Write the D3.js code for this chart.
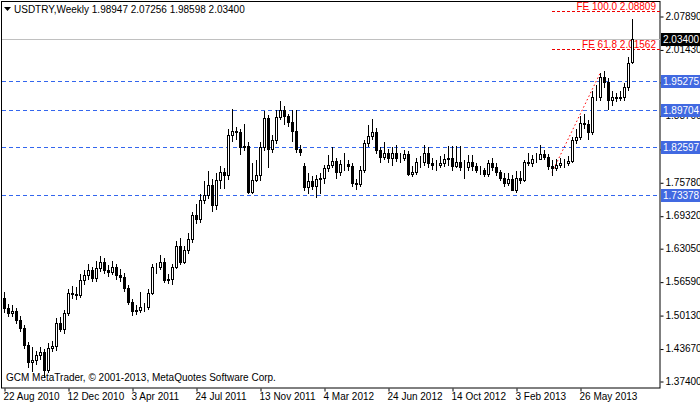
<!DOCTYPE html>
<html>
<head>
<meta charset="utf-8">
<script src="https://cdn.jsdelivr.net/npm/d3@7"></script>
<style>
  body { margin: 0; background: #fff; }
  svg text { font-family: "Liberation Sans", Arial, sans-serif; font-size: 10px; }
</style>
</head>
<body>
<svg id="chart" width="700" height="402"></svg>
<script>
// weekly bars, first bar = 22 Aug 2010
let opens = [1.535,1.515,1.505,1.509,1.492,1.476,1.443,1.411,1.415,1.424,
  1.430,1.395,1.438,1.441,1.486,1.474,1.505,1.544,1.542,1.540,
  1.569,1.578,1.588,1.573,1.592,1.604,1.588,1.584,1.594,1.578,
  1.575,1.553,1.526,1.509,1.511,1.517,1.517,1.544,1.594,1.594,
  1.604,1.569,1.571,1.594,1.634,1.604,1.627,1.648,1.694,1.686,
  1.723,1.733,1.752,1.713,1.762,1.777,1.771,1.849,1.856,1.854,
  1.825,1.827,1.739,1.762,1.771,1.825,1.881,1.823,1.839,1.883,
  1.897,1.885,1.875,1.856,1.823,1.789,1.748,1.760,1.750,1.764,
  1.766,1.785,1.791,1.798,1.777,1.793,1.793,1.789,1.756,1.754,
  1.781,1.833,1.847,1.854,1.820,1.806,1.814,1.804,1.814,1.804,
  1.804,1.812,1.773,1.777,1.796,1.796,1.814,1.795,1.791,1.791,
  1.795,1.802,1.804,1.789,1.796,1.787,1.787,1.796,1.789,1.781,
  1.781,1.773,1.795,1.787,1.777,1.767,1.756,1.764,1.742,1.767,
  1.762,1.796,1.795,1.802,1.802,1.812,1.806,1.789,1.785,1.791,
  1.795,1.795,1.798,1.839,1.845,1.872,1.870,1.854,1.922,1.922,
  1.962,1.951,1.916,1.922,1.920,1.922,1.941,1.98947];
let closes = [1.515,1.505,1.509,1.492,1.476,1.443,1.411,1.415,1.424,1.430,
  1.395,1.438,1.441,1.486,1.474,1.505,1.544,1.542,1.540,1.569,
  1.578,1.588,1.573,1.592,1.604,1.588,1.584,1.594,1.578,1.575,
  1.553,1.526,1.509,1.511,1.517,1.517,1.544,1.594,1.594,1.604,
  1.569,1.571,1.594,1.634,1.604,1.627,1.648,1.694,1.686,1.723,
  1.733,1.752,1.713,1.762,1.777,1.771,1.849,1.856,1.854,1.825,
  1.827,1.739,1.762,1.771,1.825,1.881,1.823,1.839,1.883,1.897,
  1.885,1.875,1.856,1.823,1.816,1.748,1.760,1.750,1.764,1.766,
  1.785,1.791,1.798,1.777,1.793,1.793,1.789,1.756,1.754,1.781,
  1.833,1.847,1.854,1.820,1.806,1.814,1.804,1.814,1.804,1.804,
  1.812,1.773,1.777,1.796,1.796,1.814,1.795,1.791,1.791,1.795,
  1.802,1.804,1.789,1.796,1.787,1.787,1.796,1.789,1.781,1.781,
  1.773,1.795,1.787,1.777,1.767,1.756,1.764,1.742,1.767,1.762,
  1.796,1.795,1.802,1.802,1.812,1.806,1.789,1.785,1.791,1.795,
  1.795,1.798,1.839,1.845,1.872,1.870,1.854,1.922,1.922,1.962,
  1.951,1.916,1.922,1.920,1.922,1.941,1.989,2.034];
let highs = [1.545,1.522,1.520,1.515,1.500,1.482,1.450,1.440,1.432,1.440,
  1.436,1.447,1.452,1.495,1.498,1.512,1.552,1.558,1.555,1.580,
  1.588,1.600,1.595,1.605,1.615,1.612,1.598,1.605,1.600,1.590,
  1.582,1.560,1.532,1.520,1.545,1.525,1.552,1.600,1.602,1.618,
  1.612,1.580,1.600,1.645,1.650,1.635,1.660,1.700,1.715,1.735,
  1.760,1.780,1.765,1.775,1.790,1.785,1.860,1.900,1.865,1.860,
  1.870,1.835,1.795,1.800,1.835,1.895,1.888,1.850,1.897,1.915,
  1.905,1.890,1.897,1.897,1.830,1.795,1.775,1.770,1.772,1.775,
  1.792,1.810,1.825,1.805,1.800,1.815,1.800,1.795,1.765,1.790,
  1.840,1.868,1.880,1.862,1.825,1.835,1.822,1.825,1.830,1.815,
  1.820,1.818,1.790,1.805,1.808,1.830,1.825,1.805,1.800,1.808,
  1.812,1.828,1.828,1.828,1.828,1.800,1.810,1.810,1.795,1.790,
  1.785,1.800,1.805,1.795,1.782,1.775,1.775,1.772,1.780,1.780,
  1.800,1.815,1.810,1.815,1.830,1.820,1.812,1.800,1.802,1.805,
  1.803,1.808,1.845,1.860,1.885,1.890,1.878,1.935,1.945,1.968,
  1.972,1.960,1.935,1.930,1.935,1.950,2.000,2.07256];
let lows = [1.505,1.498,1.497,1.485,1.468,1.436,1.400,1.392,1.405,1.415,
  1.380,1.390,1.430,1.432,1.468,1.465,1.500,1.532,1.530,1.535,
  1.560,1.570,1.565,1.566,1.585,1.580,1.575,1.578,1.570,1.566,
  1.545,1.520,1.500,1.502,1.505,1.508,1.512,1.540,1.580,1.588,
  1.563,1.562,1.560,1.590,1.598,1.600,1.620,1.640,1.678,1.680,
  1.715,1.725,1.700,1.705,1.745,1.745,1.762,1.835,1.840,1.810,
  1.818,1.735,1.735,1.758,1.760,1.818,1.785,1.815,1.832,1.878,
  1.868,1.865,1.835,1.815,1.808,1.740,1.735,1.742,1.728,1.735,
  1.755,1.778,1.785,1.765,1.770,1.780,1.780,1.748,1.742,1.748,
  1.775,1.825,1.840,1.812,1.795,1.800,1.795,1.790,1.796,1.795,
  1.798,1.770,1.768,1.772,1.785,1.790,1.785,1.782,1.780,1.785,
  1.788,1.790,1.780,1.785,1.780,1.765,1.780,1.780,1.775,1.772,
  1.768,1.768,1.780,1.770,1.760,1.748,1.750,1.740,1.738,1.755,
  1.758,1.790,1.788,1.795,1.800,1.800,1.782,1.770,1.780,1.785,
  1.786,1.790,1.795,1.832,1.840,1.860,1.840,1.850,1.915,1.915,
  1.940,1.897,1.905,1.912,1.915,1.915,1.935,1.98598];

let priceTicks = [2.0789,2.0143,1.9516,1.8870,1.8224,1.7578,1.6932,1.6305,1.5659,1.5013,1.4367,1.3740];
let dateLabels = ['22 Aug 2010','12 Dec 2010','3 Apr 2011','24 Jul 2011','13 Nov 2011',
  '4 Mar 2012','24 Jun 2012','14 Oct 2012','3 Feb 2013','26 May 2013'];
let dateBars = [0,16,32,48,64,80,96,112,128,144];
let levels = [1.95275,1.89704,1.82597,1.73378];
let feNames = ['FE 100.0','FE 61.8'];
let feValues = [2.08809,2.01562];
let trendBars = [137,149], trendValues = [1.777,1.968];
let lastPrice = 2.034;

let svg = d3.select('#chart');
let plotRight = 660, plotBottom = 388;

let x = d3.scaleLinear().domain([0,157]).range([4,632]);
let y = d3.scaleLinear().domain([1.374,2.0789]).range([381,16]);
let fmt = d3.format('.5f');
let py = v => Math.round(y(v)) + 0.5;

// frame
svg.append('rect').attr('x',1.5).attr('y',1.5).attr('width',plotRight-1.5).attr('height',plotBottom-1.5)
  .attr('fill','#fff').attr('stroke','#000');

// right axis
let ya = svg.append('g').attr('transform',`translate(${plotRight+0.5},0)`)
  .call(d3.axisRight(y).tickValues(priceTicks).tickSize(3).tickPadding(2).tickFormat(fmt));
ya.select('.domain').remove();
ya.selectAll('line').attr('transform','translate(0,0.5)');
ya.selectAll('text').attr('fill','#000').style('font-size','10px');

// bottom axis
let xa = svg.append('g').attr('transform',`translate(0,${plotBottom+0.5})`)
  .call(d3.axisBottom(x).tickValues(dateBars).tickSize(3).tickPadding(1).tickFormat((d,i) => dateLabels[i]));
xa.select('.domain').remove();
xa.selectAll('line').attr('transform','translate(0.5,0)');
xa.selectAll('text').attr('text-anchor','start').attr('dx',-1).attr('fill','#000').style('font-size','10px');

// support lines
svg.selectAll('.lvl').data(levels).enter().append('line')
  .attr('x1',2).attr('x2',plotRight).attr('y1',py).attr('y2',py)
  .attr('stroke','#3366ee').attr('stroke-dasharray','4,3');

// last price line
svg.append('line').attr('x1',2).attr('x2',plotRight)
  .attr('y1',py(lastPrice)).attr('y2',py(lastPrice)).attr('stroke','#c0c0c0');

// FE lines
feValues.forEach((v,i) => {
  svg.append('line').attr('x1',x(137)).attr('x2',plotRight).attr('y1',py(v)).attr('y2',py(v))
    .attr('stroke','#ee0000').attr('stroke-dasharray','3,2');
  svg.append('text').attr('x',plotRight-4).attr('y',py(v)-2).attr('text-anchor','end')
    .attr('fill','#ff0000').text(feNames[i]+' '+fmt(v));
});

// trend dotted line
svg.append('line')
  .attr('x1',x(trendBars[0])).attr('y1',y(trendValues[0]))
  .attr('x2',x(trendBars[1])).attr('y2',y(trendValues[1]))
  .attr('stroke','#ff0000').attr('stroke-dasharray','1.5,2.5');

// candles
let idx = d3.range(closes.length);
let g = svg.append('g').attr('shape-rendering','crispEdges');
g.selectAll('.wick').data(idx).enter().append('line')
  .attr('x1',i => x(i)+0.5).attr('x2',i => x(i)+0.5)
  .attr('y1',i => Math.round(y(highs[i]))).attr('y2',i => Math.round(y(lows[i])))
  .attr('stroke','#000');
g.selectAll('.body').data(idx).enter().append('rect')
  .attr('x',i => x(i)-1+0.5)
  .attr('y',i => py(Math.max(opens[i],closes[i])))
  .attr('width',2)
  .attr('height',i => Math.max(0, Math.round(y(Math.min(opens[i],closes[i]))) - Math.round(y(Math.max(opens[i],closes[i])))))
  .attr('fill',i => closes[i] >= opens[i] ? '#fff' : '#000')
  .attr('stroke','#000');

// price labels
function tag(v, bg) {
  let yy = Math.round(y(v));
  svg.append('rect').attr('x',plotRight+1).attr('y',yy-6).attr('width',39).attr('height',13).attr('fill',bg);
  svg.append('text').attr('x',plotRight+3).attr('y',yy+4).attr('fill','#fff').text(fmt(v));
}
levels.forEach(v => tag(v,'#4169e1'));
tag(lastPrice,'#000');

// header
svg.append('path').attr('d','M4,7 L11,7 L7.5,11 Z').attr('fill','#000');
svg.append('text').attr('x',14).attr('y',13).attr('fill','#000')
  .text('USDTRY,Weekly  ' + [opens[157],highs[157],lows[157],closes[157]].map(fmt).join(' '));
svg.append('text').attr('x',6).attr('y',381).attr('fill','#000')
  .text('GCM MetaTrader, \u00a9 2001-2013, MetaQuotes Software Corp.');
</script>
</body>
</html>
